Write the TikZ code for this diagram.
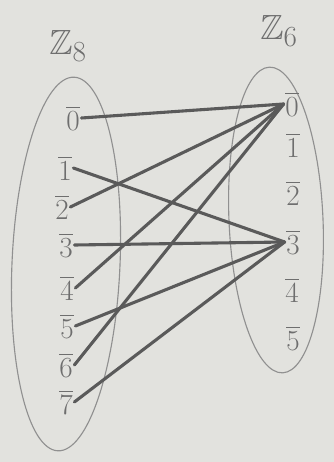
\documentclass[tikz,border=0pt]{standalone}
\usepackage{amsmath, amssymb}
\usepackage{xcolor}
\definecolor{PENpaper}{HTML}{E2E2DE}
\definecolor{PENdark}{HTML}{5A5A5A}
\definecolor{PENmid}{HTML}{6E6E6E}
\definecolor{PENlight}{HTML}{909090}
\usepackage{tikz}

\begin{document}
\begin{tikzpicture}[x=0.025cm, y=-0.025cm]
  \tikzset{
    setlab/.style={PENmid, font=\Huge, inner sep=0},
    eltlab/.style={PENmid, font=\huge, inner sep=1pt},
    setring/.style={PENlight, line width=0.8pt},
    maplink/.style={PENdark, line width=2.2pt, line cap=round},
  }
% ── Paper / bounding box ────────────────────────────────────
  \fill[PENpaper] (0,0) rectangle (334,462);
  \useasboundingbox (0,0) rectangle (334,462);

% ── Set names ───────────────────────────────────────────────
  \node[setlab] (zlab8) at (68,46) {$\mathbb{Z}_8$};
  \node[setlab] (zlab6) at (279,31) {$\mathbb{Z}_6$};

% ── Set outlines ────────────────────────────────────────────
  \draw[setring, rotate around={-2.5:(66,264)}] (66,264) ellipse (54 and 187);
  \draw[setring, rotate around={2.5:(276,220)}] (276,220) ellipse (47 and 153);

% ── Elements of Z8 ──────────────────────────────────────────
  \node[eltlab] (a0) at (73,118) {$\overline{0}$};
  \node[eltlab] (a1) at (65,168) {$\overline{1}$};
  \node[eltlab] (a2) at (62,207) {$\overline{2}$};
  \node[eltlab] (a3) at (66,245) {$\overline{3}$};
  \node[eltlab] (a4) at (67,288) {$\overline{4}$};
  \node[eltlab] (a5) at (67,326) {$\overline{5}$};
  \node[eltlab] (a6) at (66,365) {$\overline{6}$};
  \node[eltlab] (a7) at (66,402) {$\overline{7}$};

% ── Elements of Z6 ──────────────────────────────────────────
  \node[eltlab] (b0) at (292,104) {$\overline{0}$};
  \node[eltlab] (b1) at (293,145) {$\overline{1}$};
  \node[eltlab] (b2) at (293,193) {$\overline{2}$};
  \node[eltlab] (b3) at (293,242) {$\overline{3}$};
  \node[eltlab] (b4) at (292,290) {$\overline{4}$};
  \node[eltlab] (b5) at (293,338) {$\overline{5}$};

% ── The map x -> 3x ─────────────────────────────────────────
  \draw[maplink] (a0.east) -- (b0.west);
  \draw[maplink] (a1.east) -- (b3.west);
  \draw[maplink] (a2.east) -- (b0.west);
  \draw[maplink] (a3.east) -- (b3.west);
  \draw[maplink] (a4.east) -- (b0.west);
  \draw[maplink] (a5.east) -- (b3.west);
  \draw[maplink] (a6.east) -- (b0.west);
  \draw[maplink] (a7.east) -- (b3.west);
\end{tikzpicture}
\end{document}
